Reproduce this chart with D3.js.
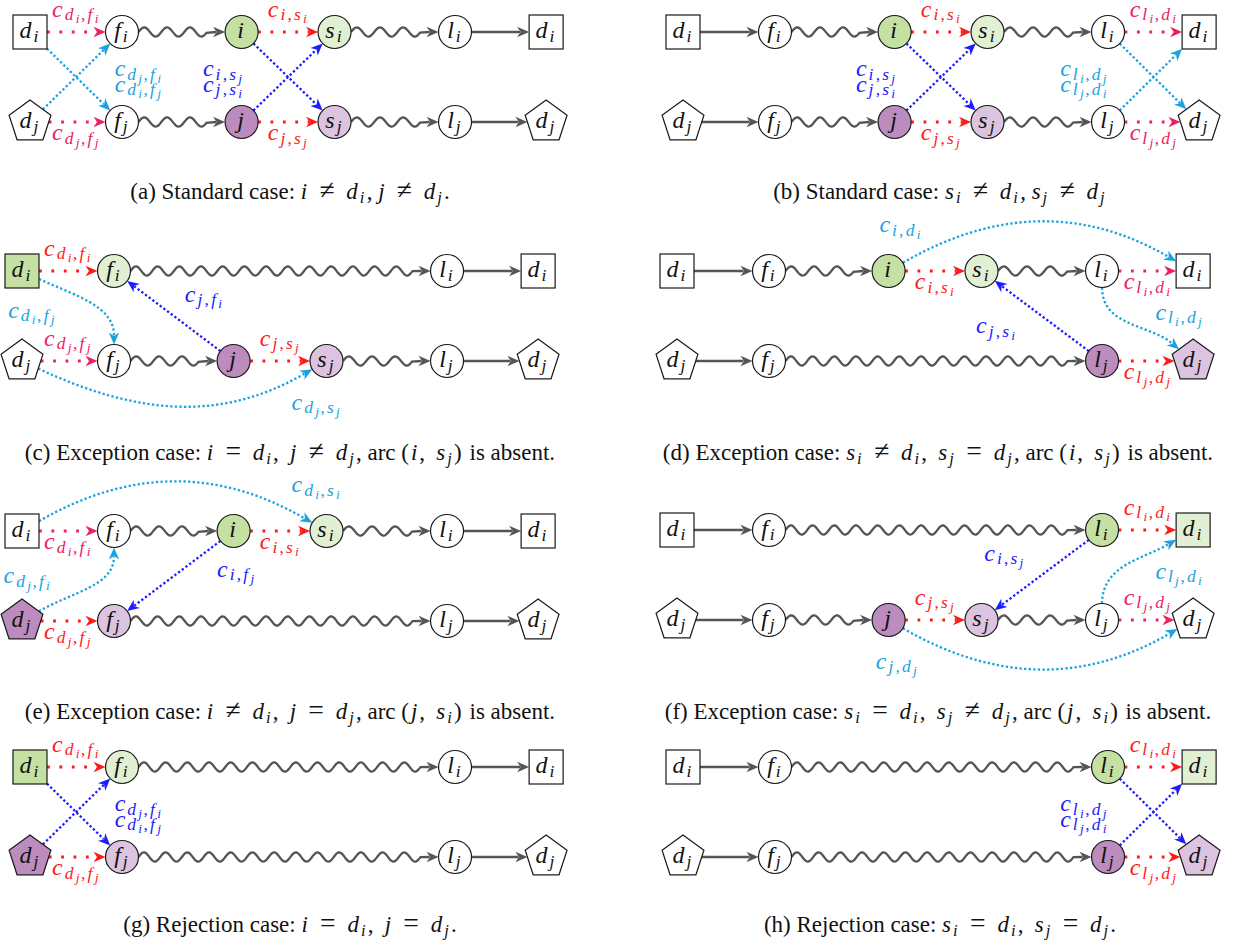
<!DOCTYPE html>
<html>
<head>
<meta charset="utf-8">
<script src="https://cdn.jsdelivr.net/npm/d3@7"></script>
<style>
  body { margin: 0; background: #fff; }
  text { white-space: pre; }
</style>
</head>
<body>
<svg id="fig" width="1254" height="949"></svg>
<script>
// column positions of the six node slots (in column units)
const colPos = [0, 1, 2.3, 3.31, 4.62, 5.61];

const panelIds = ["a", "b", "c", "d", "e", "f", "g", "h"];

const captions = [
  "(a) Standard case: $i ≠ d_i$, $j ≠ d_j$.",
  "(b) Standard case: $s_i ≠ d_i$, $s_j ≠ d_j$",
  "(c) Exception case: $i = d_i, j ≠ d_j$, arc $(i, s_j)$ is absent.",
  "(d) Exception case: $s_i ≠ d_i, s_j = d_j$, arc $(i, s_j)$ is absent.",
  "(e) Exception case: $i ≠ d_i, j = d_j$, arc $(j, s_i)$ is absent.",
  "(f) Exception case: $s_i = d_i, s_j ≠ d_j$, arc $(j, s_i)$ is absent.",
  "(g) Rejection case: $i = d_i, j = d_j$.",
  "(h) Rejection case: $s_i = d_i, s_j = d_j$."
];

const fullTop = ["d_i", "f_i", "i", "s_i", "l_i", "d_i"];
const fullBottom = ["d_j", "f_j", "j", "s_j", "l_j", "d_j"];
const shortTop = ["d_i", "f_i", null, null, "l_i", "d_i"];
const shortBottom = ["d_j", "f_j", null, null, "l_j", "d_j"];

const topRows = [fullTop, fullTop, shortTop, fullTop, fullTop, shortTop, shortTop, shortTop];
const bottomRows = [fullBottom, fullBottom, fullBottom, shortBottom, shortBottom, fullBottom, shortBottom, shortBottom];

// w = white, G/g = dark/light green, P/p = dark/light purple
const topFills = ["wwGgww", "wwGgww", "Gg--ww", "wwGgww", "wwGgww", "ww--Gg", "Gg--ww", "ww--Gg"];
const bottomFills = ["wwPpww", "wwPpww", "wwPpww", "ww--Pp", "Pp--ww", "wwPpww", "Pp--ww", "ww--Pp"];

// [from, to, kind, colour, label | outAngle, labelSide | inAngle]
const edgesA = [
  ["00", "01", "dot", "pink", "c_{d_i,f_i}", "above"],
  ["01", "02", "wave"],
  ["02", "03", "dot", "red", "c_{i,s_i}", "above"],
  ["03", "04", "wave"],
  ["04", "05", "solid"],
  ["10", "11", "dot", "pink", "c_{d_j,f_j}", "below"],
  ["11", "12", "wave"],
  ["12", "13", "dot", "red", "c_{j,s_j}", "below"],
  ["13", "14", "wave"],
  ["14", "15", "solid"],
  ["00", "11", "dense", "cyan"],
  ["10", "01", "dense", "cyan"],
  ["02", "13", "dense", "blue"],
  ["12", "03", "dense", "blue"]
];
const edgesB = [
  ["00", "01", "solid"],
  ["01", "02", "wave"],
  ["02", "03", "dot", "red", "c_{i,s_i}", "above"],
  ["03", "04", "wave"],
  ["04", "05", "dot", "pink", "c_{l_i,d_i}", "above"],
  ["10", "11", "solid"],
  ["11", "12", "wave"],
  ["12", "13", "dot", "red", "c_{j,s_j}", "below"],
  ["13", "14", "wave"],
  ["14", "15", "dot", "pink", "c_{l_j,d_j}", "below"],
  ["02", "13", "dense", "blue"],
  ["12", "03", "dense", "blue"],
  ["04", "15", "dense", "cyan"],
  ["14", "05", "dense", "cyan"]
];
const edgesC = [
  ["00", "01", "dot", "red", "c_{d_i,f_i}", "above"],
  ["01", "04", "wave"],
  ["04", "05", "solid"],
  ["10", "11", "dot", "pink", "c_{d_j,f_j}", "above"],
  ["11", "12", "wave"],
  ["12", "13", "dot", "red", "c_{j,s_j}", "above"],
  ["13", "14", "wave"],
  ["14", "15", "solid"],
  ["00", "11", "curve", "cyan", -25, 90],
  ["10", "13", "curve", "cyan", -25, -150],
  ["12", "01", "dense", "blue"]
];
const edgesD = [
  ["00", "01", "solid"],
  ["01", "02", "wave"],
  ["02", "03", "dot", "red", "c_{i,s_i}", "below"],
  ["03", "04", "wave"],
  ["04", "05", "dot", "pink", "c_{l_i,d_i}", "below"],
  ["10", "11", "solid"],
  ["11", "14", "wave"],
  ["14", "15", "dot", "red", "c_{l_j,d_j}", "below"],
  ["02", "05", "curve", "cyan", 30, 150],
  ["04", "15", "curve", "cyan", -90, 140],
  ["14", "03", "dense", "blue"]
];
const edgesE = [
  ["00", "01", "dot", "pink", "c_{d_i,f_i}", "below"],
  ["01", "02", "wave"],
  ["02", "03", "dot", "red", "c_{i,s_i}", "below"],
  ["03", "04", "wave"],
  ["04", "05", "solid"],
  ["10", "11", "dot", "red", "c_{d_j,f_j}", "below"],
  ["11", "14", "wave"],
  ["14", "15", "solid"],
  ["00", "03", "curve", "cyan", 30, 150],
  ["10", "01", "curve", "cyan", 30, -90],
  ["02", "11", "dense", "blue"]
];
const edgesF = [
  ["00", "01", "solid"],
  ["01", "04", "wave"],
  ["04", "05", "dot", "red", "c_{l_i,d_i}", "above"],
  ["10", "11", "solid"],
  ["11", "12", "wave"],
  ["12", "13", "dot", "red", "c_{j,s_j}", "above"],
  ["13", "14", "wave"],
  ["14", "15", "dot", "pink", "c_{l_j,d_j}", "above"],
  ["04", "13", "dense", "blue"],
  ["14", "05", "curve", "cyan", 90, -150],
  ["12", "15", "curve", "cyan", -30, -150]
];
const edgesG = [
  ["00", "01", "dot", "red", "c_{d_i,f_i}", "above"],
  ["01", "04", "wave"],
  ["04", "05", "solid"],
  ["10", "11", "dot", "red", "c_{d_j,f_j}", "below"],
  ["11", "14", "wave"],
  ["14", "15", "solid"],
  ["00", "11", "dense", "blue"],
  ["10", "01", "dense", "blue"]
];
const edgesH = [
  ["00", "01", "solid"],
  ["01", "04", "wave"],
  ["04", "05", "dot", "red", "c_{l_i,d_i}", "above"],
  ["10", "11", "solid"],
  ["11", "14", "wave"],
  ["14", "15", "dot", "red", "c_{l_j,d_j}", "below"],
  ["04", "15", "dense", "blue"],
  ["14", "05", "dense", "blue"]
];
const panelEdges = [edgesA, edgesB, edgesC, edgesD, edgesE, edgesF, edgesG, edgesH];

// free labels: [colour, column, row, line1, line2?]
const notesA = [["cyan", 0.92, 0.49, "c_{d_j,f_i}", "c_{d_i,f_j}"], ["blue", 1.88, 0.49, "c_{i,s_j}", "c_{j,s_i}"]];
const notesB = [["blue", 1.88, 0.49, "c_{i,s_j}", "c_{j,s_i}"], ["cyan", 4.1, 0.49, "c_{l_i,d_j}", "c_{l_j,d_i}"]];
const notesC = [["cyan", -0.15, 0.52, "c_{d_i,f_j}"], ["blue", 1.77, 0.34, "c_{j,f_i}"], ["cyan", 2.93, 1.54, "c_{d_j,s_j}"]];
const notesD = [["cyan", 2.2, -0.43, "c_{i,d_i}"], ["cyan", 5.2, 0.54, "c_{l_i,d_j}"], ["blue", 3.25, 0.69, "c_{j,s_i}"]];
const notesE = [["cyan", 2.93, -0.43, "c_{d_i,s_i}"], ["cyan", -0.2, 0.58, "c_{d_j,f_i}"], ["blue", 2.12, 0.51, "c_{i,f_j}"]];
const notesF = [["blue", 3.34, 0.34, "c_{i,s_j}"], ["cyan", 5.2, 0.54, "c_{l_j,d_i}"], ["cyan", 2.16, 1.54, "c_{j,d_j}"]];
const notesG = [["blue", 0.92, 0.49, "c_{d_j,f_i}", "c_{d_i,f_j}"]];
const notesH = [["blue", 4.1, 0.49, "c_{l_i,d_j}", "c_{l_j,d_i}"]];
const panelNotes = [notesA, notesB, notesC, notesD, notesE, notesF, notesG, notesH];

// ---- layout and styles ----
const panelOrigin = [[30, 32], [683, 32], [22, 271], [677, 271], [22, 531], [677, 530], [30, 767], [683, 767]];
const captionPos = [[290, 199], [940, 199], [290, 460], [938, 460], [290, 719], [938, 719], [290, 932], [940, 932]];
const COL_W = 92, ROW_H = 90;
const RX = 16.5, RY = 16.5, HB = 17, PR = 22;
const fillColors = {w: "#ffffff", G: "#c5e0a3", g: "#e1efd3", P: "#bc8cbe", p: "#dcc4e0"};
const ink = {red: "#ff1a1a", pink: "#ee2062", cyan: "#1ba3e0", blue: "#1c1cff", gray: "#555555"};
const FONT = "'Liberation Serif', 'Times New Roman', serif";
const LABEL_SIZES = [24, 17.5, 13.5];
const CAPTION_SIZES = [23, 16.5, 12];
const DROPS = [0, 3.5, 6.5];
const MATH_LS = [2, 2.2, 1.5];

const svg = d3.select("#fig");
svg.append("rect").attr("width", 1254).attr("height", 949).attr("fill", "#fff");

// tiny TeX-ish parser: letters italic, _x / _{..} subscripts
function parseTex(s) {
  const out = [];
  let i = 0;
  function walk(level) {
    while (i < s.length) {
      const ch = s[i];
      if (ch === "}") { i++; return; }
      if (ch === "_") {
        i++;
        if (s[i] === "{") { i++; walk(level + 1); }
        else { out.push({t: s[i], level: level + 1, it: /[a-z]/i.test(s[i]), math: true}); i++; }
        continue;
      }
      out.push({t: ch, level: level, it: /[a-z]/i.test(ch), math: true});
      i++;
    }
  }
  walk(0);
  return out;
}

function captionTokens(str) {
  const out = [];
  str.split("$").forEach(function(part, k) {
    if (k % 2 === 0) out.push({t: part, level: 0, it: false, math: false});
    else parseTex(part).forEach(function(tok) { out.push(tok); });
  });
  return out;
}

function writeTex(g, tokens, x, y, anchor, color, sizes) {
  const t = g.append("text").attr("x", x).attr("y", y).attr("text-anchor", anchor)
    .attr("fill", color).style("font-family", FONT);
  let cur = 0;
  tokens.forEach(function(tok) {
    const off = DROPS[tok.level];
    const ts = t.append("tspan").attr("dy", off - cur)
      .style("font-size", sizes[tok.level] + "px")
      .style("font-style", tok.it ? "italic" : "normal")
      .text(tok.t);
    if (tok.math) {
      let ls = MATH_LS[tok.level];
      if (tok.level === 0 && (tok.t === "=" || tok.t === "≠")) {
        ts.style("font-size", (sizes[0] * 1.2) + "px").attr("dx", 2.5);
        ls = 4;
      } else if (tok.level === 0 && tok.t === ",") {
        ls = 3.5;
      }
      ts.style("letter-spacing", ls + "px");
    }
    cur = off;
  });
  return t;
}

function pentPoints(cx, cy) {
  return d3.range(5).map(function(k) {
    const a = (90 + k * 72) * Math.PI / 180;
    return [cx + PR * Math.cos(a), cy - PR * Math.sin(a)];
  });
}

// where a ray from the node centre at angle ang (radians, y up) leaves the shape
function border(n, ang) {
  const dx = Math.cos(ang), dy = -Math.sin(ang);
  let t;
  if (n.shape === "ell") {
    t = 1 / Math.sqrt((dx / RX) ** 2 + (dy / RY) ** 2);
  } else if (n.shape === "box") {
    t = Math.min(HB / Math.max(Math.abs(dx), 1e-9), HB / Math.max(Math.abs(dy), 1e-9));
  } else {
    const pts = pentPoints(0, 0);
    t = Infinity;
    const cross = (a, b) => a[0] * b[1] - a[1] * b[0];
    for (let k = 0; k < 5; k++) {
      const p1 = pts[k], p2 = pts[(k + 1) % 5];
      const e = [p2[0] - p1[0], p2[1] - p1[1]];
      const den = cross([dx, dy], e);
      if (Math.abs(den) < 1e-9) continue;
      const tt = cross(p1, e) / den, u = cross(p1, [dx, dy]) / den;
      if (tt > 0 && u >= -1e-6 && u <= 1 + 1e-6) t = Math.min(t, tt);
    }
  }
  return [n.x + dx * t, n.y + dy * t];
}

function arrowHead(g, tip, dir, color) {
  const a = Math.atan2(dir[1], dir[0]) * 180 / Math.PI;
  g.append("path").attr("d", "M0,0L-12,-5.2L-8.5,0L-12,5.2Z")
    .attr("transform", "translate(" + tip[0] + "," + tip[1] + ") rotate(" + a + ")")
    .attr("fill", color);
}

const line = d3.line();

panelIds.forEach(function(pid, p) {
  const g = svg.append("g").attr("id", "panel-" + pid);
  const x = d3.scaleLinear().domain([0, 1]).range([panelOrigin[p][0], panelOrigin[p][0] + COL_W]);
  const y = d3.scaleLinear().domain([0, 1]).range([panelOrigin[p][1], panelOrigin[p][1] + ROW_H]);

  // nodes
  const nodes = {};
  [topRows[p], bottomRows[p]].forEach(function(names, r) {
    const fills = r === 0 ? topFills[p] : bottomFills[p];
    names.forEach(function(name, c) {
      if (!name) return;
      nodes["" + r + c] = {
        label: name, x: x(colPos[c]), y: y(r),
        shape: (c === 0 || c === 5) ? (r === 0 ? "box" : "pent") : "ell",
        fill: fillColors[fills[c]]
      };
    });
  });

  const eg = g.append("g");
  panelEdges[p].forEach(function(ed) {
    const a = nodes[ed[0]], b = nodes[ed[1]], kind = ed[2];
    const color = kind === "solid" || kind === "wave" ? ink.gray : ink[ed[3]];
    let s, e, dir;
    if (kind === "curve") {
      const ao = ed[4] * Math.PI / 180, ai = ed[5] * Math.PI / 180;
      s = border(a, ao);
      e = border(b, ai);
      const L = 0.3915 * Math.hypot(e[0] - s[0], e[1] - s[1]);
      const c1 = [s[0] + L * Math.cos(ao), s[1] - L * Math.sin(ao)];
      const c2 = [e[0] + L * Math.cos(ai), e[1] - L * Math.sin(ai)];
      const dl = Math.hypot(e[0] - c2[0], e[1] - c2[1]);
      dir = [(e[0] - c2[0]) / dl, (e[1] - c2[1]) / dl];
      const end = [e[0] - 9 * dir[0], e[1] - 9 * dir[1]];
      eg.append("path")
        .attr("d", "M" + s + "C" + c1 + " " + c2 + " " + end)
        .attr("fill", "none").attr("stroke", color).attr("stroke-width", 2.3)
        .attr("stroke-dasharray", "2.3,2.3");
      arrowHead(eg, e, dir, color);
      return;
    }
    const ang = Math.atan2(-(b.y - a.y), b.x - a.x);
    s = border(a, ang);
    e = border(b, ang + Math.PI);
    const len = Math.hypot(e[0] - s[0], e[1] - s[1]);
    dir = [(e[0] - s[0]) / len, (e[1] - s[1]) / len];
    const end = [e[0] - 9 * dir[0], e[1] - 9 * dir[1]];
    let pts = [s, end];
    if (kind === "wave") {
      const span = len - 18;
      const n = Math.max(1, Math.round(span / 21));
      const lam = span / n;
      const nrm = [dir[1], -dir[0]];
      pts = d3.range(0, span + 0.01, 1).map(function(t) {
        const o = 4.6 * Math.sin(2 * Math.PI * t / lam);
        return [s[0] + t * dir[0] + o * nrm[0], s[1] + t * dir[1] + o * nrm[1]];
      });
      pts.push(end);
    }
    const path = eg.append("path").attr("d", line(pts)).attr("fill", "none").attr("stroke", color);
    if (kind === "solid" || kind === "wave") path.attr("stroke-width", 2.3);
    if (kind === "dot") path.attr("stroke-width", 2.8).attr("stroke-dasharray", "2.8,9.6");
    if (kind === "dense") path.attr("stroke-width", 2.3).attr("stroke-dasharray", "2.3,2.3");
    arrowHead(eg, e, dir, color);

    if (kind === "dot" && ed[4]) {
      const mx = (a.x + b.x) / 2;
      const ly = ed[5] === "above" ? a.y - 15.5 : a.y + 18;
      writeTex(g, parseTex(ed[4]), mx, ly, "middle", color, LABEL_SIZES);
    }
  });

  // free labels
  panelNotes[p].forEach(function(nt) {
    nt.slice(3).forEach(function(txt, k) {
      writeTex(g, parseTex(txt), x(nt[1]), y(nt[2]) + k * 15.5, "start", ink[nt[0]], LABEL_SIZES);
    });
  });

  // nodes on top
  const ng = g.append("g");
  Object.keys(nodes).forEach(function(key) {
    const n = nodes[key];
    let shp;
    if (n.shape === "box") {
      shp = ng.append("rect").attr("x", n.x - HB).attr("y", n.y - HB).attr("width", 2 * HB).attr("height", 2 * HB);
    } else if (n.shape === "pent") {
      shp = ng.append("polygon").attr("points", pentPoints(n.x, n.y).join(" "));
    } else {
      shp = ng.append("ellipse").attr("cx", n.x).attr("cy", n.y).attr("rx", RX).attr("ry", RY);
    }
    shp.attr("fill", n.fill).attr("stroke", "#1a1a1a").attr("stroke-width", 1.2);
    writeTex(ng, parseTex(n.label), n.x, n.y + 6, "middle", "#111", LABEL_SIZES);
  });

  writeTex(g, captionTokens(captions[p]), captionPos[p][0], captionPos[p][1], "middle", "#111", CAPTION_SIZES);
});
</script>
</body>
</html>
